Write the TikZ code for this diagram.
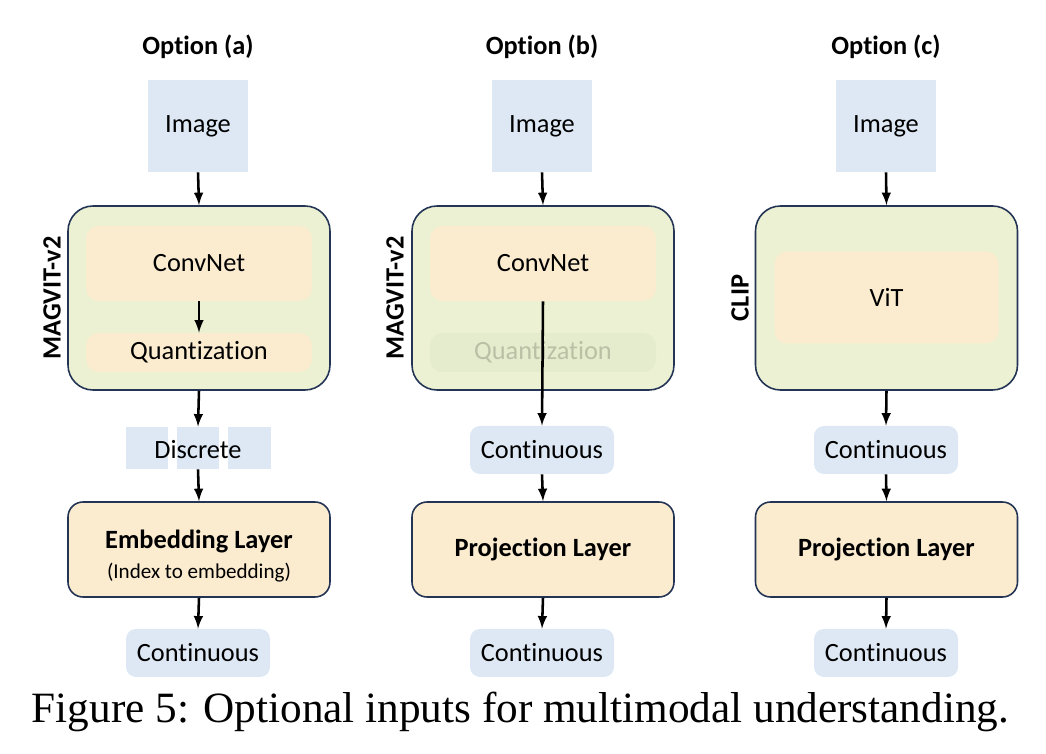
\documentclass[tikz,border=0pt]{standalone}
\usepackage{fontspec}
\setmainfont[Ligatures=NoCommon]{Carlito}
\newfontfamily\captionfont{Liberation Serif}
\usetikzlibrary{positioning,arrows}
\definecolor{myblue}{RGB}{222,232,244}
\definecolor{mygreen}{RGB}{235,241,210}
\definecolor{myorange}{RGB}{251,236,207}
\definecolor{mynavy}{RGB}{36,52,84}
\definecolor{myfade}{RGB}{229,236,205}
\definecolor{myfadetext}{RGB}{185,192,165}
\tikzstyle{title}=[font=\fontsize{15}{18}\selectfont\bfseries]
\tikzstyle{imgbox}=[fill=myblue,minimum width=2cm,minimum height=1.84cm]
\tikzstyle{data}=[fill=myblue,rounded corners=0.2cm,minimum width=2.88cm,minimum height=0.96cm]
\tikzstyle{encoder}=[draw=mynavy,fill=mygreen,line width=0.9pt,rounded corners=0.5cm,minimum width=5.24cm,minimum height=3.68cm]
\tikzstyle{block}=[fill=myorange,rounded corners=0.25cm,minimum width=4.52cm]
\tikzstyle{layerbox}=[draw=mynavy,fill=myorange,line width=0.9pt,rounded corners=0.3cm,minimum width=5.24cm,minimum height=1.9cm,align=center]
\tikzstyle{square}=[fill=myblue,minimum height=0.84cm]
\tikzstyle{arr}=[-latex,line width=1.45pt]

\begin{document}
\begin{tikzpicture}[every node/.style={font=\fontsize{15}{18}\selectfont,inner sep=0pt}]
      \useasboundingbox (0,0) rectangle (20.92,-15.08);

      % option (a)
      \node (optA) at (3.96,-0.94) [title] {Option (a)};
      \node (imgA) at (3.96,-2.52) [imgbox] {Image};
      \node (magA) at (3.98,-5.96) [encoder] {};
      \node (convA) at (3.98,-5.27) [block, minimum height=1.5cm] {ConvNet};
      \node (quantA) at (3.98,-7.05) [block, minimum height=0.78cm] {Quantization};
      \node (nameA) at (1.04,-5.96) [title, rotate=90] {MAGVIT-v2};
      \node (disc1) at (2.94,-8.96) [square, minimum width=0.84cm] {};
      \node (disc2) at (3.96,-8.96) [square, minimum width=0.84cm] {};
      \node (disc3) at (4.98,-8.96) [square, minimum width=0.86cm] {};
      \node (discA) at (3.96,-9.0) {Discrete};
      \node (embA) at (3.98,-10.99) [layerbox] {\rule{0pt}{18pt}\textbf{Embedding Layer}\\[-1pt]{\fontsize{12}{14}\selectfont (Index to embedding)}};
      \node (outA) at (3.96,-13.06) [data] {Continuous};

      \draw[arr] (imgA.south) -- (magA.north);
      \draw[arr] (convA.south) -- (quantA.north);
      \draw[arr] (magA.south) -- (disc2.north);
      \draw[arr] (disc2.south) -- (embA.north);
      \draw[arr] (embA.south) -- (outA.north);

      % option (b)
      \node (optB) at (10.84,-0.94) [title] {Option (b)};
      \node (imgB) at (10.84,-2.52) [imgbox] {Image};
      \node (magB) at (10.86,-5.96) [encoder] {};
      \node (convB) at (10.86,-5.27) [block, minimum height=1.5cm] {ConvNet};
      \node (quantB) at (10.86,-7.05) [block, fill=myfade, minimum height=0.78cm, text=myfadetext] {Quantization};
      \node (nameB) at (7.9,-5.96) [title, rotate=90] {MAGVIT-v2};
      \node (midB) at (10.84,-9.0) [data] {Continuous};
      \node (projB) at (10.86,-10.99) [layerbox] {\textbf{Projection Layer}};
      \node (outB) at (10.84,-13.06) [data] {Continuous};

      \draw[arr] (imgB.south) -- (magB.north);
      \draw[arr] (convB.south) -- (midB.north);
      \draw[arr] (midB.south) -- (projB.north);
      \draw[arr] (projB.south) -- (outB.north);

      % option (c)
      \node (optC) at (17.72,-0.94) [title] {Option (c)};
      \node (imgC) at (17.72,-2.52) [imgbox] {Image};
      \node (magC) at (17.73,-5.96) [encoder] {};
      \node (vitC) at (17.73,-5.95) [block, minimum width=4.48cm, minimum height=1.84cm] {ViT};
      \node (nameC) at (14.8,-5.96) [title, rotate=90] {CLIP};
      \node (midC) at (17.72,-9.0) [data] {Continuous};
      \node (projC) at (17.73,-10.99) [layerbox] {\textbf{Projection Layer}};
      \node (outC) at (17.72,-13.06) [data] {Continuous};

      \draw[arr] (imgC.south) -- (magC.north);
      \draw[arr] (magC.south) -- (midC.north);
      \draw[arr] (midC.south) -- (projC.north);
      \draw[arr] (projC.south) -- (outC.north);

      \node (caption) at (10.41,-14.46) [anchor=base, font=\captionfont\fontsize{24.6}{28}\selectfont] {Figure 5: Optional inputs for multimodal understanding.};
    \end{tikzpicture}
\end{document}
